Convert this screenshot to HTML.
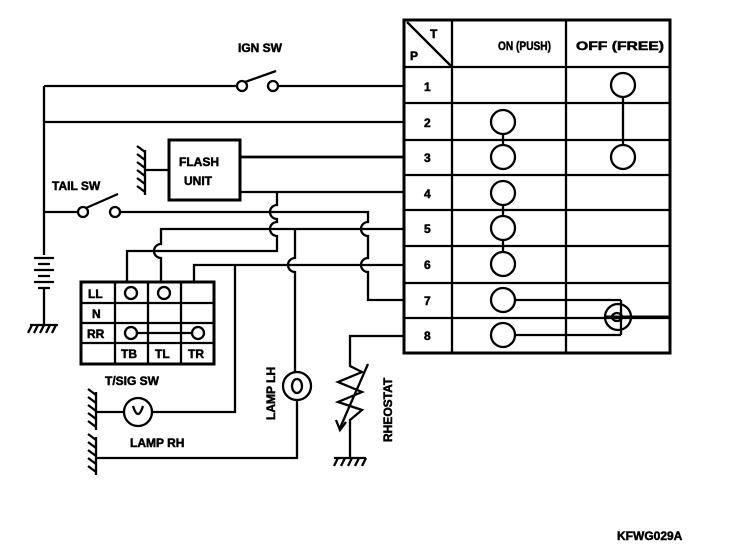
<!DOCTYPE html>
<html><head><style>
html,body{margin:0;padding:0;background:#fff;}
svg{display:block;}
text{font-family:"Liberation Sans",sans-serif;font-weight:bold;fill:#000;stroke:#000;stroke-width:0.5;}
</style></head><body>
<svg width="736" height="552" viewBox="0 0 736 552" xmlns="http://www.w3.org/2000/svg">
<g fill="none" stroke="#000" stroke-width="2.3">
<!-- main table -->
<rect x="404" y="20" width="266" height="333" stroke-width="3"/>
<line x1="452" y1="20" x2="452" y2="353"/>
<line x1="566" y1="20" x2="566" y2="353"/>
<line x1="404" y1="67" x2="670" y2="67"/>
<line x1="404" y1="103" x2="670" y2="103"/>
<line x1="404" y1="140" x2="670" y2="140"/>
<line x1="404" y1="175" x2="670" y2="175"/>
<line x1="404" y1="210" x2="670" y2="210"/>
<line x1="404" y1="246" x2="670" y2="246"/>
<line x1="404" y1="283" x2="670" y2="283"/>
<line x1="404" y1="318" x2="670" y2="318"/>
<line x1="407" y1="22" x2="452" y2="67"/>
<!-- circles -->
<circle cx="623" cy="85" r="12"/><circle cx="623" cy="157" r="12"/><line x1="623" y1="97" x2="623" y2="145"/>
<circle cx="503" cy="122" r="12"/><circle cx="503" cy="157" r="12"/><line x1="503" y1="134" x2="503" y2="145"/>
<circle cx="503" cy="193" r="12"/><circle cx="503" cy="228" r="12"/><circle cx="503" cy="264" r="12"/>
<line x1="503" y1="205" x2="503" y2="216"/><line x1="503" y1="240" x2="503" y2="252"/>
<circle cx="503" cy="300" r="12"/><circle cx="503" cy="335" r="12"/>
<line x1="515" y1="300" x2="621" y2="300"/><line x1="515" y1="335" x2="621" y2="335"/>
<line x1="621" y1="300" x2="621" y2="335"/>
<circle cx="618" cy="317" r="13"/>
<ellipse cx="617" cy="317" rx="5" ry="4"/>
<line x1="605" y1="317" x2="670" y2="317" stroke-width="3"/>
<!-- left wiring -->
<path d="M44 86 L236 86 M279 86 L404 86"/>
<circle cx="242" cy="86" r="5" fill="#fff"/><circle cx="273" cy="86" r="5" fill="#fff"/>
<line x1="245" y1="82" x2="276" y2="71"/>
<path d="M44 86 L44 255"/>
<path d="M44 122 L404 122"/>
<!-- battery -->
<path d="M34 258 L54 258 M38 264 L50 264 M34 270 L54 270 M38 276 L50 276 M34 282 L54 282 M38 288 L50 288"/>
<path d="M44 288 L44 325 M30 325 L58 325"/>
<path d="M32 325 L28 333 M38 325 L34 333 M44 325 L40 333 M50 325 L46 333 M56 325 L52 333"/>
<!-- flash unit -->
<rect x="169" y="140" width="71" height="60" stroke-width="3"/>
<path d="M145 150 L145 195 M145 170 L169 170"/>
<path d="M145 152 L137 146 M145 160 L137 154 M145 168 L137 162 M145 176 L137 170 M145 184 L137 178 M145 192 L137 186"/>
<path d="M240 157 L404 157" stroke-width="2.8"/>
<!-- row4 from flash -->
<path d="M240 192 L404 192"/>
<path d="M277 192 L277 205 A7 7 0 0 0 277 219 L277 222 A7 7 0 0 0 277 236 L277 251 L127 251 L127 283"/>
<!-- tail sw -->
<path d="M44 212 L77 212"/>
<circle cx="83" cy="212" r="5" fill="#fff"/><circle cx="115" cy="212" r="5" fill="#fff"/>
<line x1="86" y1="208" x2="118" y2="194"/>
<path d="M120 212 L368 212 L368 222 A7 7 0 0 0 368 236 L368 258 A7 7 0 0 0 368 272 L368 300 L404 300"/>
<!-- row5 -->
<path d="M404 229 L161 229 L161 244 A7 7 0 0 0 161 258 L161 283"/>
<path d="M295 229 L295 258 A7 7 0 0 0 295 272 L295 372"/>
<circle cx="297" cy="386" r="14"/>
<ellipse cx="297" cy="386" rx="5" ry="7"/>
<path d="M297 400 L297 458 L96 458"/>
<!-- row6 -->
<path d="M404 265 L194 265 L194 283"/>
<path d="M235 265 L235 412 L152 412"/>
<circle cx="138" cy="412" r="14"/>
<path d="M133 406 Q138 422 143 406"/>
<path d="M124 412 L96 412"/>
<path d="M96 392 L96 430 M96 395 L88 389 M96 403 L88 397 M96 411 L88 405 M96 419 L88 413 M96 427 L88 421"/>
<path d="M96 437 L96 475 M96 440 L88 434 M96 448 L88 442 M96 456 L88 450 M96 464 L88 458 M96 472 L88 466"/>
<!-- row 8 rheostat -->
<path d="M404 336 L350 336 L350 366 L362 372 L338 382 L362 392 L338 402 L362 410 L350 420 L350 458"/>
<path d="M368 364 L340 428"/>
<path d="M336 420 L340 430 L346 422"/>
<path d="M334 458 L366 458 M338 458 L334 466 M345 458 L341 466 M352 458 L348 466 M359 458 L355 466 M366 458 L362 466"/>
<!-- T/SIG SW table -->
<rect x="81" y="282" width="133" height="82" stroke-width="3"/>
<line x1="115" y1="282" x2="115" y2="364"/>
<line x1="148" y1="282" x2="148" y2="364"/>
<line x1="181" y1="282" x2="181" y2="364"/>
<line x1="81" y1="303" x2="214" y2="303"/>
<line x1="81" y1="323" x2="214" y2="323"/>
<line x1="81" y1="343" x2="214" y2="343"/>
<circle cx="131" cy="293" r="6"/><circle cx="164" cy="293" r="6"/>
<circle cx="131" cy="333" r="6"/><circle cx="198" cy="333" r="6"/>
<line x1="137" y1="333" x2="192" y2="333"/>
</g>
<g font-size="12">
<text x="238" y="52">IGN SW</text>
<text x="52" y="190">TAIL SW</text>
<text x="179" y="166">FLASH</text>
<text x="184" y="185">UNIT</text>
<text x="105" y="385">T/SIG SW</text>
<text x="130" y="447">LAMP RH</text>
<text transform="translate(275,420) rotate(-90)">LAMP LH</text>
<text transform="translate(392,442) rotate(-90)">RHEOSTAT</text>
<text x="498" y="50" textLength="53" lengthAdjust="spacingAndGlyphs">ON (PUSH)</text>
<text x="576" y="50" textLength="88" lengthAdjust="spacingAndGlyphs">OFF (FREE)</text>
<text x="430" y="38">T</text>
<text x="410" y="60">P</text>
<text x="424" y="91">1</text>
<text x="424" y="127">2</text>
<text x="424" y="162">3</text>
<text x="424" y="198">4</text>
<text x="424" y="233">5</text>
<text x="424" y="269">6</text>
<text x="424" y="305">7</text>
<text x="424" y="340">8</text>
<text x="88" y="298">LL</text>
<text x="92" y="318">N</text>
<text x="87" y="338">RR</text>
<text x="121" y="358">TB</text>
<text x="155" y="358">TL</text>
<text x="188" y="358">TR</text>
<text x="617" y="540">KFWG029A</text>
</g>
</svg>
</body></html>
